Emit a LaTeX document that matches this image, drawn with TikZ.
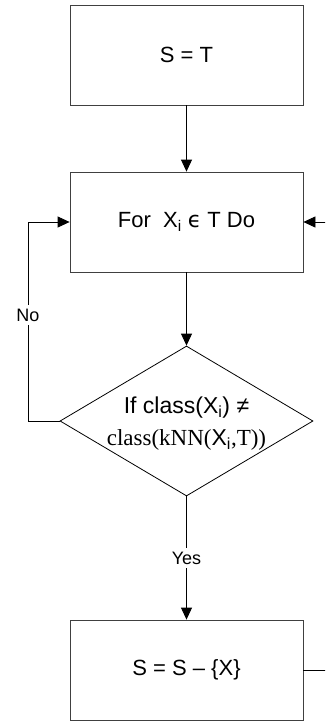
\documentclass[tikz,border=0pt]{standalone}
\usepackage{fontspec}
\setmainfont{Liberation Sans}
\newfontfamily\serifF{Liberation Serif}
\newfontfamily\dejavu{DejaVu Sans}
\usetikzlibrary{arrows.meta,shapes.geometric}
\begin{document}
\begin{tikzpicture}[x=1pt,y=-1pt,
  box/.style={draw=black!75,line width=0.8pt,minimum width=233pt,minimum height=100pt,inner sep=0pt,font=\fontsize{22}{26}\selectfont},
  dia/.style={draw=black,line width=0.8pt,diamond,minimum width=253pt,minimum height=150pt,aspect=1.687,inner sep=0pt},
  conn/.style={draw=black,line width=0.8pt},
  arr/.style={conn,-{Triangle[length=12pt,width=11pt]}},
  lab/.style={fill=white,inner xsep=1pt,inner ysep=4pt,font=\fontsize{18}{20}\selectfont}]
\useasboundingbox (0,0) rectangle (325,721);
\clip (0,0) rectangle (325,721);
\node[box] (b1) at (186.5,55) {S = T};
\node[box] (b2) at (186.5,222) {For\ \ X\textsubscript{i} {\dejavu ϵ} T Do};
\node[dia] (d) at (186.5,421) {};
\node[align=center,font=\fontsize{23}{32}\selectfont] (dt) at (186.5,424) {If class(X\textsubscript{i}) ≠\\{\serifF class(kNN(}X\textsubscript{i}{\serifF ,T))}};
\node[box] (b3) at (186.5,670) {S = S – \{X\}};
\coordinate (lc) at (28,421);
\coordinate (lt) at (28,222);
\coordinate (rb) at (345,670);
\coordinate (rt) at (345,222);
\draw[arr] (b1) -- (b2);
\draw[arr] (b2) -- (d.north);
\draw[arr] (d.west) -- (lc) -- (lt) -- (b2.west);
\draw[arr] (d.south) -- (b3.north);
\draw[arr] (b3.east) -- (rb) -- (rt) -- (b2.east);
\node[lab] (no) at (28,315) {No};
\node[lab] (yes) at (186.5,558) {Yes};
\end{tikzpicture}
\end{document}
